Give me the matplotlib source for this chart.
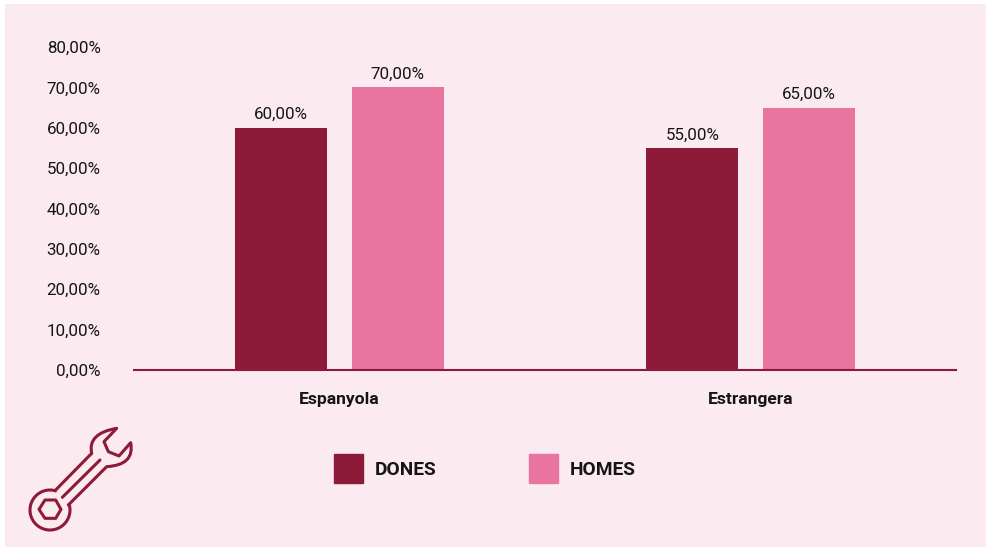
import numpy as np
import matplotlib
matplotlib.use("Agg")
import matplotlib.pyplot as plt
from matplotlib.patches import Rectangle, PathPatch, Polygon, Patch
from matplotlib.path import Path

categories = ["Espanyola", "Estrangera"]
series_names = ["DONES", "HOMES"]
dones = [60, 55]
homes = [70, 65]
yticks = [0, 10, 20, 30, 40, 50, 60, 70, 80]

DARK = "#8E1A3A"
PINK = "#E8749F"
BG = "#FBEAF0"
INK = "#151515"
W, H = 986, 549

plt.rcParams["font.family"] = ["Roboto", "DejaVu Sans"]


def pct(v):
    return f"{v:.2f}".replace(".", ",") + "%"


fig = plt.figure(figsize=(W / 100, H / 100), dpi=100, facecolor="white")

# Pixel-space layer for the panel and the wrench icon
bg = fig.add_axes([0, 0, 1, 1], zorder=0)
bg.set_xlim(0, W)
bg.set_ylim(H, 0)
bg.axis("off")
bg.add_patch(Rectangle((5, 4), W - 5, 543, fc=BG, ec="none"))

# Wrench outline
ox, oy = 0, 400
def pt(x, y):
    return (ox + x / 3, oy + y / 3)

LW = 2.2
head = Path(
    [pt(275, 160), pt(262, 100), pt(350, 85), pt(312, 125), pt(325, 155),
     pt(357, 168), pt(392, 128), pt(405, 195), pt(320, 200), pt(205, 315)],
    [Path.MOVETO, Path.CURVE3, Path.CURVE3, Path.LINETO, Path.LINETO,
     Path.LINETO, Path.LINETO, Path.CURVE3, Path.CURVE3, Path.LINETO],
)
wrench = dict(fc="none", ec=DARK, lw=LW, capstyle="round", joinstyle="round")
bg.add_patch(PathPatch(head, **wrench))
bg.plot(*zip(pt(275, 160), pt(165, 272)), color=DARK, lw=LW, solid_capstyle="round")
bg.plot(*zip(pt(187, 292), pt(300, 180)), color=DARK, lw=LW, solid_capstyle="round")
cx, cy = pt(150, 330)
theta = np.radians(np.linspace(-15, 285, 80))
bg.plot(cx + 20 * np.cos(theta), cy + 20 * np.sin(theta), color=DARK, lw=LW)
bg.add_patch(Polygon([pt(117, 328), pt(135, 300), pt(167, 300), pt(183, 328),
                      pt(167, 355), pt(135, 355)], closed=True, **wrench))

# Chart area
ax = fig.add_axes([134 / W, 1 - 370 / H, 822 / W, 323 / H], zorder=1)
ax.patch.set_alpha(0)
x = np.arange(len(categories))
bw, off = 0.224, 0.1415
b1 = ax.bar(x - off, dones, bw, color=DARK, label=series_names[0])
b2 = ax.bar(x + off, homes, bw, color=PINK, label=series_names[1])
for bars, vals in ((b1, dones), (b2, homes)):
    for r, v in zip(bars, vals):
        ax.annotate(pct(v), (r.get_x() + r.get_width() / 2, v), xytext=(0, 4),
                    textcoords="offset points", ha="center", va="bottom",
                    fontsize=12.2, color=INK)

ax.set_xlim(-0.5, 1.5)
ax.set_ylim(0, 80)
ax.set_yticks(yticks, [pct(v) for v in yticks], fontsize=12.2, color=INK)
ax.set_xticks(x, categories, fontsize=12.6, fontweight="bold", color=INK)
ax.tick_params(axis="both", length=0)
ax.tick_params(axis="x", pad=15.5)
ax.tick_params(axis="y", pad=24)
for s in ("top", "right", "left"):
    ax.spines[s].set_visible(False)
ax.spines["bottom"].set_color(DARK)
ax.spines["bottom"].set_linewidth(1.5)

# Legend
handles = [Patch(color=DARK, label=series_names[0]), Patch(color=PINK, label=series_names[1])]
fig.legend(handles=handles, loc="center left",
           bbox_to_anchor=(334 / W, 1 - 468.5 / H), ncol=2, frameon=False,
           prop={"size": 13.8, "weight": "bold"}, labelcolor=INK,
           handlelength=1.52, handleheight=1.95, handletextpad=0.6,
           columnspacing=4.85, borderpad=0, borderaxespad=0)

fig.savefig("out.png", dpi=100, facecolor="white")
